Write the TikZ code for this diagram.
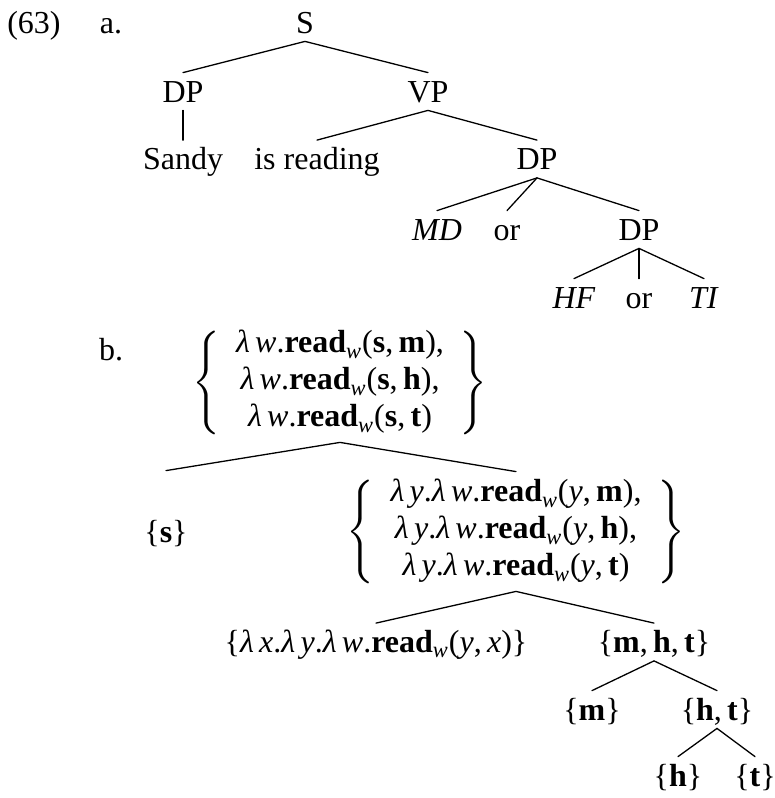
\documentclass[tikz,border=0pt]{standalone}
\usepackage{amsmath}
\usepackage{fontspec}
\setmainfont{Liberation Serif}
\usepackage{tikz}
\newcommand{\rd}{\textbf{read}\textsubscript{\textit{w}}}
\newcommand{\den}[1]{\textbf{#1}}
\newcommand{\lmb}[1]{\textit{λ\,#1}.}

\begin{document}
\begin{tikzpicture}[
  x=0.5pt, y=-0.5pt,
  font=\fontsize{16}{18.5}\selectfont,
  line cap=round, line join=round,
  cat/.style={inner sep=3.5pt, text height=11pt, text depth=0.5pt},
  lab/.style={cat},
  setn/.style={inner sep=2pt},
  branch/.style={line width=0.65pt},
]
\useasboundingbox (0,0) rectangle (775,798);

\node[lab] (ex) at (34,22.5) {(63)};
\node[lab] (pa) at (111,22.5) {a.};
\node[lab] (pb) at (111,350) {b.};

% (a) the syntax tree
\node[cat] (S) at (305,22.5) {S};
\node[cat] (dpA) at (183,91.5) {DP};
\node[cat] (vp) at (428,91.5) {VP};
\node[cat] (sandy) at (183,159) {Sandy};
\node[cat] (isr) at (317,159) {is reading};
\node[cat] (dpB) at (537,159) {DP};
\node[cat] (md) at (437,229.5) {\textit{MD}};
\node[cat] (orA) at (507,229.5) {or};
\node[cat] (dpC) at (639,229.5) {DP};
\node[cat] (hf) at (574,297.5) {\textit{HF}};
\node[cat] (orB) at (639,297.5) {or};
\node[cat] (ti) at (704,297.5) {\textit{TI}};

\draw[branch] (S.south) -- (dpA.north);
\draw[branch] (S.south) -- (vp.north);
\draw[branch] (dpA.south) -- (sandy.north);
\draw[branch] (vp.south) -- (isr.north);
\draw[branch] (vp.south) -- (dpB.north);
\draw[branch] (dpB.south) -- (md.north);
\draw[branch] (dpB.south) -- (orA.north);
\draw[branch] (dpB.south) -- (dpC.north);
\draw[branch] (dpC.south) -- (hf.north);
\draw[branch] (dpC.south) -- (orB.north);
\draw[branch] (dpC.south) -- (ti.north);

% (b) the denotations
\node[setn] (setS) at (340,382.5) {$\left\{\begin{tabular}{@{\hspace{8pt}}c@{\hspace{8pt}}}
  \lmb{w}\rd(\den{s},\,\den{m}),\\
  \lmb{w}\rd(\den{s},\,\den{h}),\\
  \lmb{w}\rd(\den{s},\,\den{t})
  \end{tabular}\right\}$};
\node[cat, minimum height=60.5pt] (sandyD) at (166,531.5) {\{\den{s}\}};
\node[setn] (setVP) at (516,531.5) {$\left\{\begin{tabular}{@{\hspace{8pt}}c@{\hspace{8pt}}}
  \lmb{y}\lmb{w}\rd(\textit{y},\,\den{m}),\\
  \lmb{y}\lmb{w}\rd(\textit{y},\,\den{h}),\\
  \lmb{y}\lmb{w}\rd(\textit{y},\,\den{t})
  \end{tabular}\right\}$};
\node[cat] (readD) at (376,642) {\{\lmb{x}\lmb{y}\lmb{w}\rd(\textit{y},\,\textit{x})\}};
\node[cat] (mht) at (654,642) {\{\den{m},\,\den{h},\,\den{t}\}};
\node[cat] (m) at (592,709.5) {\{\den{m}\}};
\node[cat] (ht) at (717,709.5) {\{\den{h},\,\den{t}\}};
\node[cat] (h) at (678,775.5) {\{\den{h}\}};
\node[cat] (t) at (755,775.5) {\{\den{t}\}};

\draw[branch] (setS.south) -- (sandyD.north);
\draw[branch] (setS.south) -- (setVP.north);
\draw[branch] (setVP.south) -- (readD.north);
\draw[branch] (setVP.south) -- (mht.north);
\draw[branch] (mht.south) -- (m.north);
\draw[branch] (mht.south) -- (ht.north);
\draw[branch] (ht.south) -- (h.north);
\draw[branch] (ht.south) -- (t.north);
\end{tikzpicture}
\end{document}
